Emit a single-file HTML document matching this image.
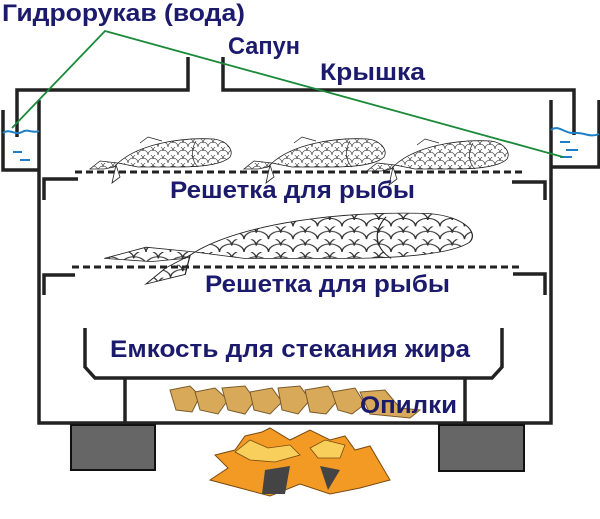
<!DOCTYPE html>
<html><head><meta charset="utf-8"><style>
html,body{margin:0;padding:0;background:#fff;}
svg{display:block;}
text{font-family:"Liberation Sans",sans-serif;font-weight:bold;fill:#1c1a6c;}
</style></head><body>
<svg width="600" height="519" viewBox="0 0 600 519" xmlns="http://www.w3.org/2000/svg">
<defs>
<pattern id="sc" width="10" height="8" patternUnits="userSpaceOnUse">
<path d="M0 8 A5 5 0 0 1 10 8 M-5 4 A5 5 0 0 1 5 4 M5 4 A5 5 0 0 1 15 4" fill="none" stroke="#333" stroke-width="0.6"/>
</pattern>
<g id="fish">
<path d="M0 0 L-18 -2 L-28 6 L-14 6 L-4 4 Z" fill="url(#sc)" stroke="#222" stroke-width="0.8"/>
<path d="M-2 2 L2 14 L-6 20 Z" fill="#fff" stroke="#222" stroke-width="0.8"/>
<path d="M0 0 C20 -18 60 -26 96 -24 C110 -22 116 -12 112 -6 C104 2 80 4 60 4 L20 4 Z" fill="url(#sc)" stroke="#222" stroke-width="0.8"/>
<path d="M78 -22 C72 -12 74 -2 80 4" fill="none" stroke="#222" stroke-width="0.7"/>
<path d="M22 -20 L30 -26 L44 -22" fill="none" stroke="#222" stroke-width="0.7"/>
</g>
</defs>
<rect width="600" height="519" fill="#fff"/>
<g fill="none" stroke="#222" stroke-width="3.5">
<polyline points="17,137 17,90 188,90 188,57"/>
<polyline points="223,57 223,90 574,90 574,135"/>
<polyline points="39,100 39,423 551,423 551,100"/>
<polyline points="3,110 3,170 39,170"/>
<polyline points="599,100 599,167 551,167"/>
<polyline points="44,200 44,179 78,179"/>
<polyline points="512,182 545,182 545,200"/>
<polyline points="44,295 44,275 75,275"/>
<polyline points="513,274 545,274 545,295"/>
<polyline points="85,328 85,367 95,378 492,378 502,367 502,328"/>
<line x1="125" y1="378" x2="125" y2="423"/>
<line x1="465" y1="378" x2="465" y2="423"/>
</g>
<line x1="75" y1="172" x2="523" y2="172" stroke="#222" stroke-width="3" stroke-dasharray="7,4"/>
<line x1="72" y1="267" x2="522" y2="267" stroke="#222" stroke-width="3" stroke-dasharray="7,4"/>
<path d="M3 133 C10 128 15 136 22 132 C28 128 32 134 39 131" fill="none" stroke="#1f7fc4" stroke-width="2"/>
<path d="M551 130 C558 124 565 134 574 133 C584 132 590 138 599 134" fill="none" stroke="#1f7fc4" stroke-width="2"/>
<g stroke="#1f7fc4" stroke-width="2">
<line x1="13" y1="152" x2="22" y2="152"/><line x1="20" y1="160" x2="30" y2="160"/>
<line x1="560" y1="142" x2="570" y2="142"/><line x1="566" y1="150" x2="578" y2="150"/>
<line x1="560" y1="157" x2="572" y2="157"/>
</g>
<polyline points="12,128 105,31 563,157" fill="none" stroke="#1a8a3a" stroke-width="1.8"/>
<use href="#fish" transform="translate(118,163)"/>
<use href="#fish" transform="translate(272,163)"/>
<use href="#fish" transform="translate(395,165)"/>
<g transform="translate(195,252) scale(2.45,1.6)">
<path d="M0 0 L-20 -3 L-37 4 L-18 6 L-4 4 Z" fill="url(#sc)" stroke="#222" stroke-width="0.5"/>
<path d="M-2 2 L-4 14 L-20 20 L-12 10 Z" fill="url(#sc)" stroke="#222" stroke-width="0.5"/>
<path d="M0 0 C20 -18 60 -26 96 -24 C110 -22 116 -12 112 -6 C104 2 80 4 60 4 L20 4 Z" fill="url(#sc)" stroke="#222" stroke-width="0.5"/>
<path d="M78 -22 C72 -12 74 -2 80 4" fill="none" stroke="#222" stroke-width="0.5"/>
</g>
<rect x="71" y="425" width="84" height="45" fill="#666" stroke="#111" stroke-width="2"/>
<rect x="439" y="425" width="85" height="46" fill="#666" stroke="#111" stroke-width="2"/>
<g fill="#d9a95a" stroke="#7a5a2a" stroke-width="1">
<path d="M170 390 L190 386 L200 396 L192 412 L176 410 Z"/>
<path d="M195 392 L215 388 L228 400 L218 414 L200 410 Z"/>
<path d="M222 388 L245 386 L255 400 L245 414 L228 410 Z"/>
<path d="M250 392 L272 388 L282 402 L270 414 L254 410 Z"/>
<path d="M278 388 L300 386 L310 400 L298 414 L282 410 Z"/>
<path d="M305 390 L328 386 L338 400 L326 414 L310 412 Z"/>
<path d="M332 392 L355 388 L365 404 L352 414 L338 410 Z"/>
<path d="M360 392 L385 390 L400 408 L420 410 L410 418 L370 414 Z"/>
</g>
<path d="M210 480 L228 468 L215 455 L235 450 L245 436 L262 432 L270 428 L290 440 L310 430 L330 440 L345 436 L355 450 L370 446 L390 480 L360 488 L330 494 L300 484 L270 496 L240 488 Z" fill="#f29a24" stroke="#7a4a10" stroke-width="1"/>
<path d="M235 452 L250 440 L268 448 L290 445 L300 455 L275 462 L250 460 Z" fill="#f7cf5a" stroke="#7a4a10" stroke-width="0.8"/>
<path d="M310 448 L325 440 L345 445 L340 458 L318 458 Z" fill="#f7cf5a" stroke="#7a4a10" stroke-width="0.8"/>
<path d="M265 470 L290 466 L285 494 L262 494 Z M320 466 L340 470 L328 490 Z" fill="#444"/>
<text x="2" y="21" font-size="24" textLength="243" lengthAdjust="spacingAndGlyphs">Гидрорукав (вода)</text>
<text x="228" y="54" font-size="24" textLength="72" lengthAdjust="spacingAndGlyphs">Сапун</text>
<text x="320" y="80" font-size="24" textLength="105" lengthAdjust="spacingAndGlyphs">Крышка</text>
<text x="170" y="198" font-size="24" textLength="245" lengthAdjust="spacingAndGlyphs">Решетка для рыбы</text>
<text x="205" y="292" font-size="24" textLength="245" lengthAdjust="spacingAndGlyphs">Решетка для рыбы</text>
<text x="110" y="357" font-size="24" textLength="360" lengthAdjust="spacingAndGlyphs">Емкость для стекания жира</text>
<text x="360" y="413" font-size="24" textLength="97" lengthAdjust="spacingAndGlyphs">Опилки</text>
</svg>
</body></html>
